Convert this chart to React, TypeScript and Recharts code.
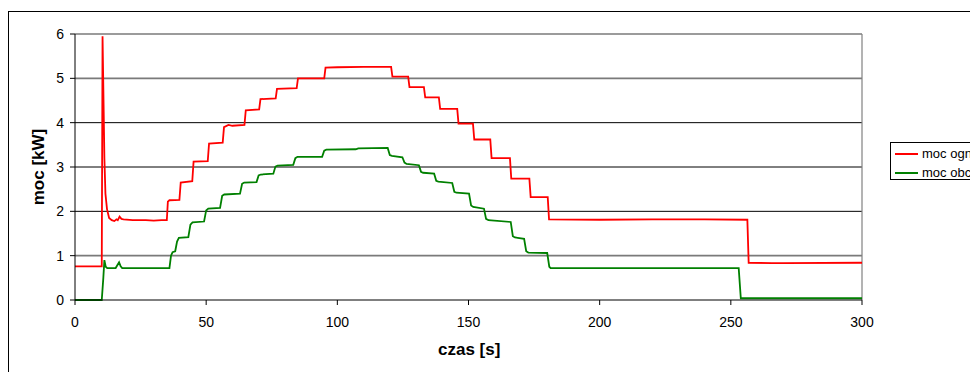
import { LineChart, Line, XAxis, YAxis, ReferenceLine } from 'recharts';

// time [s], power [kW]
const ognTime = [
  0, 10.2, 10.5, 10.9, 11.2, 11.6, 12.2, 13, 14, 15, 15.8, 16.3, 17, 17.7, 18.5, 22, 27, 30, 33, 35,
  35.4, 36, 39.8, 40.3, 44.7, 45.2, 50.6, 51.1, 56.3, 56.8, 58.5, 60, 64.6, 65.1, 70.2, 70.7, 76.5, 77,
  84.5, 85, 95, 95.5, 100, 110, 120.5, 121, 127, 127.5, 133, 133.5, 138.7, 139.2, 145.7, 146.2, 151.7,
  152.2, 158.3, 158.8, 165.8, 166.3, 173.2, 173.7, 180.2, 180.7, 200, 220, 240, 256.3, 256.8, 270, 300,
];
const ognPower = [
  0.76, 0.76, 5.95, 4.4, 3.2, 2.4, 2.05, 1.85, 1.8, 1.78, 1.82, 1.8, 1.88, 1.83, 1.82, 1.8, 1.8, 1.79, 1.8, 1.8,
  2.22, 2.25, 2.26, 2.65, 2.68, 3.12, 3.13, 3.53, 3.55, 3.9, 3.95, 3.93, 3.95, 4.28, 4.3, 4.53, 4.55, 4.76,
  4.78, 5.0, 5.0, 5.24, 5.25, 5.26, 5.26, 5.04, 5.04, 4.8, 4.8, 4.57, 4.57, 4.31, 4.31, 3.98, 3.98,
  3.62, 3.62, 3.2, 3.2, 2.74, 2.74, 2.32, 2.32, 1.82, 1.81, 1.82, 1.82, 1.81, 0.84, 0.83, 0.84,
];

const obcTime = [
  0, 10.2, 10.8, 11.2, 11.7, 12.3, 15.5, 16.3, 16.8, 17.4, 18, 25, 36, 36.6, 37.2, 38.2, 38.9, 39.6,
  43.2, 44, 44.8, 49.2, 50, 50.8, 55.3, 56.1, 56.9, 62.9, 63.7, 64.5, 69.2, 70, 70.8, 75.6, 76.4, 77.2,
  83.2, 84, 84.8, 94.2, 95, 95.8, 107, 108, 119.2, 120, 120.8, 124.8, 125.6, 126.4, 131.1, 131.9, 132.7,
  136.9, 137.7, 138.5, 143.8, 144.6, 145.4, 150.2, 151, 151.8, 155.9, 156.7, 157.6, 166.1, 166.9, 167.7,
  171.2, 172, 172.8, 180, 180.8, 181.3, 220, 253, 253.8, 270, 300,
];
const obcPower = [
  0, 0, 0.5, 0.9, 0.75, 0.72, 0.72, 0.8, 0.85, 0.76, 0.72, 0.72, 0.72, 1.0, 1.08, 1.1, 1.32, 1.4,
  1.42, 1.7, 1.75, 1.77, 2.02, 2.06, 2.08, 2.35, 2.38, 2.4, 2.62, 2.65, 2.66, 2.81, 2.83, 2.85, 3.01, 3.03,
  3.05, 3.2, 3.23, 3.23, 3.37, 3.39, 3.4, 3.42, 3.43, 3.27, 3.25, 3.22, 3.1, 3.07, 3.04, 2.89, 2.87,
  2.85, 2.69, 2.67, 2.64, 2.44, 2.42, 2.4, 2.13, 2.1, 2.06, 1.83, 1.8, 1.76, 1.44, 1.41,
  1.38, 1.1, 1.07, 1.06, 0.75, 0.72, 0.72, 0.72, 0.04, 0.04, 0.04,
];

const xTicks = [0, 50, 100, 150, 200, 250, 300];
const yTicks = [0, 1, 2, 3, 4, 5, 6];
const greyGrid = [1, 5, 6];
const blackGrid = [2, 3, 4];

const ognData = ognTime.map((t, i) => ({ t, p: ognPower[i] }));
const obcData = obcTime.map((t, i) => ({ t, p: obcPower[i] }));

const FONT = '"Liberation Sans", Arial, sans-serif';
const TICK = { fill: '#000', fontSize: 14, fontFamily: FONT };

export default function App() {
  return (
    <div
      style={{
        position: 'fixed',
        left: 8,
        top: 8,
        width: 962,
        height: 364,
        overflow: 'hidden',
        fontFamily: FONT,
        background: '#fff',
      }}
    >
      <div
        style={{
          position: 'absolute',
          left: 0,
          top: 3,
          width: 1100,
          height: 500,
          border: '1px solid #000',
          boxSizing: 'border-box',
        }}
      />
      <div style={{ position: 'absolute', left: 0, top: 0 }}>
        <LineChart width={962} height={364} margin={{ top: 26, right: 108, left: 0, bottom: 42 }}>
          <XAxis
            dataKey="t"
            type="number"
            domain={[0, 300]}
            ticks={xTicks}
            allowDataOverflow
            stroke="#000"
            tick={TICK}
            tickSize={5}
            tickMargin={12}
            height={30}
          />
          <YAxis
            type="number"
            domain={[0, 6]}
            ticks={yTicks}
            stroke="#000"
            tick={TICK}
            tickSize={5}
            tickMargin={6}
            width={67}
          />
          {greyGrid.map((v) => (
            <ReferenceLine key={'g' + v} y={v} stroke="#7a7a7a" strokeWidth={1.6} />
          ))}
          {blackGrid.map((v) => (
            <ReferenceLine key={'b' + v} y={v} stroke="#000" strokeWidth={1} />
          ))}
          <ReferenceLine x={300} stroke="#808080" strokeWidth={1.2} />
          <Line
            data={obcData}
            dataKey="p"
            type="linear"
            stroke="#008000"
            strokeWidth={1.8}
            dot={false}
            activeDot={false}
            isAnimationActive={false}
          />
          <Line
            data={ognData}
            dataKey="p"
            type="linear"
            stroke="#ff0000"
            strokeWidth={1.8}
            dot={false}
            activeDot={false}
            isAnimationActive={false}
          />
        </LineChart>
      </div>
      <div
        style={{
          position: 'absolute',
          left: 430,
          top: 332,
          width: 60,
          textAlign: 'center',
          fontWeight: 'bold',
          fontSize: 17,
          whiteSpace: 'nowrap',
          lineHeight: '20px',
        }}
      >
        czas [s]
      </div>
      <div
        style={{
          position: 'absolute',
          left: 31 - 50,
          top: 159 - 10,
          width: 100,
          textAlign: 'center',
          fontWeight: 'bold',
          fontSize: 17,
          lineHeight: '20px',
          whiteSpace: 'nowrap',
          transform: 'rotate(-90deg)',
        }}
      >
        moc [kW]
      </div>
      <div
        style={{
          position: 'absolute',
          left: 882,
          top: 134,
          width: 120,
          height: 38,
          border: '1px solid #000',
          boxSizing: 'border-box',
          fontSize: 13,
        }}
      >
        {[
          { name: 'moc ogn.', color: '#ff0000' },
          { name: 'moc obc.', color: '#008000' },
        ].map((s, i) => (
          <div
            key={s.name}
            style={{ position: 'absolute', left: 4, top: 2 + i * 19, height: 17, display: 'flex', alignItems: 'center' }}
          >
            <span style={{ display: 'inline-block', width: 23, height: 2, background: s.color, marginRight: 4 }} />
            <span style={{ whiteSpace: 'nowrap' }}>{s.name}</span>
          </div>
        ))}
      </div>
    </div>
  );
}
